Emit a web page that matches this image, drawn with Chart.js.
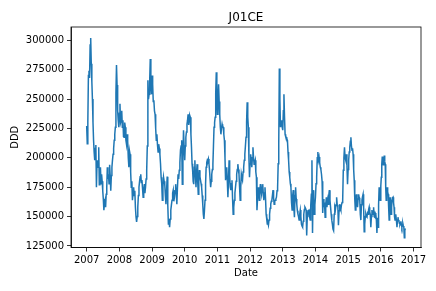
<!DOCTYPE html>
<html>
<head>
<meta charset="utf-8">
<script src="https://cdn.jsdelivr.net/npm/chart.js@4.4.1/dist/chart.umd.min.js"></script>
<style>
  html, body { margin: 0; padding: 0; background: #fff; }
  #wrap { width: 436px; height: 291px; }
</style>
</head>
<body>
<div id="wrap"><canvas id="chart" width="436" height="291"></canvas></div>
<script>
const chartTitle = 'J01CE';
const xTitle = 'Date';
const yTitle = 'DDD';
const xTicks = [2007, 2008, 2009, 2010, 2011, 2012, 2013, 2014, 2015, 2016, 2017];
const yTicks = [125000, 150000, 175000, 200000, 225000, 250000, 275000, 300000];

// weekly DDD, one list per calendar year
const years = [2007, 2008, 2009, 2010, 2011, 2012, 2013, 2014, 2015, 2016];
const ddd2007 = [227000, 212000, 230000, 270000, 274000, 268000, 296000, 302000, 280000, 265000, 250000, 230000, 215000, 205000, 198000, 208000, 211000, 175000, 195000, 198000, 192000, 209000, 177000, 185000, 192000, 178000, 186000, 180000, 172000, 165000, 155500, 162000, 164000, 158000, 169000, 175000, 192000, 182000, 186000, 178000, 194000, 185000, 172000, 185000, 192000, 198000, 203000, 208000, 215000, 220000, 226000, 255000, 279000, 262000, 240000, 232000, 226000];
const ddd2008 = [238000, 246000, 230000, 232000, 240000, 226000, 232000, 218000, 217500, 230000, 226000, 215000, 211600, 220000, 214000, 200000, 192000, 206000, 203000, 188000, 175000, 180000, 164000, 170000, 175000, 168000, 172000, 158000, 150000, 145500, 150000, 158000, 168000, 175000, 180000, 184000, 186000, 179000, 181000, 174000, 166500, 172000, 177600, 170000, 175000, 182000, 189500, 210000, 266000, 250000, 254000, 265000, 284000, 262000, 254000];
const ddd2009 = [270000, 262600, 248000, 249000, 240000, 237000, 225000, 215000, 220000, 211000, 205000, 211600, 208000, 203000, 195000, 183500, 178000, 164000, 175000, 183500, 180000, 177600, 168000, 160600, 172000, 184000, 160000, 143600, 148000, 141000, 148000, 155500, 160000, 164000, 170000, 172500, 163000, 166500, 172000, 177600, 170000, 160600, 175000, 186000, 182000, 189500, 196000, 206500, 210000, 215000, 177600, 200000, 223500, 210000];
const ddd2010 = [198000, 210000, 217500, 222000, 228600, 232000, 237000, 228000, 232000, 236000, 234500, 220000, 209000, 195000, 189500, 180000, 177600, 192000, 198000, 185000, 175000, 188000, 194600, 180000, 169000, 182000, 189500, 184000, 181000, 178000, 175000, 168000, 160600, 152000, 148000, 155000, 164000, 178000, 192000, 196000, 198000, 197000, 199000, 195000, 189500, 182000, 175000, 180000, 186000, 190000, 194600, 210000, 226000, 230000, 234500, 255000, 272800, 250000];
const ddd2011 = [237000, 250000, 262600, 248000, 237000, 226000, 220000, 225000, 228600, 226000, 226000, 220000, 215000, 200000, 181000, 188000, 192000, 180000, 166500, 180000, 198000, 185000, 175000, 172500, 178000, 181000, 165000, 152000, 158000, 164000, 170000, 175000, 180000, 186000, 190000, 194600, 190000, 186000, 175000, 164000, 175000, 186000, 183000, 181000, 188000, 192000, 198000, 203000, 210000, 217500, 230000, 247300, 235000, 226000, 200000, 183500];
const ddd2012 = [195000, 203000, 198000, 192000, 200000, 209000, 200000, 194600, 196000, 198000, 188000, 183500, 155500, 165000, 175000, 170000, 164000, 172000, 177600, 172000, 169000, 175000, 177600, 170000, 164000, 170000, 175000, 165000, 152000, 148000, 143600, 145000, 142700, 147000, 152000, 157000, 160600, 163000, 164000, 168000, 172500, 166000, 160600, 163000, 164000, 165000, 166500, 172000, 175000, 195000, 211600, 276000, 250000, 226000, 230000, 232000, 226000];
const ddd2013 = [223500, 240000, 254000, 235000, 220000, 218000, 217500, 216000, 215000, 205000, 198000, 188000, 183500, 178000, 175000, 162000, 155500, 168000, 172500, 158000, 149500, 168000, 175000, 165000, 160600, 155000, 152000, 150000, 147000, 152000, 155500, 150000, 143600, 142000, 141000, 146000, 152000, 156000, 158000, 157000, 155500, 134000, 150000, 152000, 155000, 155500, 150000, 147000, 160000, 169000, 198000, 136000, 172500, 160000, 152000, 160000];
const ddd2014 = [166500, 178000, 183500, 200000, 205000, 198000, 200600, 196000, 192000, 190000, 186000, 180000, 153000, 165000, 158000, 162000, 149500, 160000, 166500, 158000, 164000, 160600, 168000, 172500, 164000, 158000, 152000, 147000, 143600, 139300, 138000, 152000, 158000, 156000, 160000, 166500, 160000, 158000, 142700, 155000, 160600, 158000, 156000, 160000, 162000, 164000, 189500, 200000, 209000, 200000, 198000, 203000, 195000, 177600];
const ddd2015 = [190000, 198000, 205000, 209000, 214000, 217500, 210000, 206500, 208000, 203000, 190000, 181000, 165000, 155500, 165000, 169000, 162000, 158000, 165000, 169000, 166000, 164000, 152000, 147000, 160000, 164000, 167000, 169000, 158000, 137000, 143600, 150000, 152000, 150000, 149500, 153000, 152000, 156000, 158000, 154000, 152000, 141000, 150000, 155500, 152000, 152000, 158000, 150000, 149500, 153000, 152000, 147000, 136000, 149000, 141000, 160000, 175000, 168000, 164000];
const ddd2016 = [176000, 183500, 195000, 201000, 196000, 194000, 198000, 202000, 197000, 194600, 175000, 164000, 170000, 175000, 171000, 169000, 158000, 147000, 158000, 166500, 158000, 152000, 158000, 164000, 166000, 166500, 162000, 158000, 150000, 147000, 150000, 152000, 146000, 141000, 147000, 149500, 147000, 146000, 144000, 143600, 145000, 146000, 143000, 141000, 143000, 144000, 142000, 141000, 132000, 138000, 140000];
const dataEnd = 2016.75; // last week in the series

const seriesByYear = [ddd2007, ddd2008, ddd2009, ddd2010, ddd2011, ddd2012, ddd2013, ddd2014, ddd2015, ddd2016];

function buildPoints() {
    const points = [];
    years.forEach((year, k) => {
        const vals = seriesByYear[k];
        const isLast = k === years.length - 1;
        const step = isLast ? (dataEnd - year) / (vals.length - 1) : 1 / vals.length;
        vals.forEach((v, i) => points.push({ x: year + i * step, y: v }));
    });
    return points;
}

// frame on all four sides + title centred over the plot
const frameAndTitle = {
    id: 'frameAndTitle',
    afterDraw(chart) {
        const { ctx, chartArea: a } = chart;
        ctx.save();
        ctx.strokeStyle = '#000';
        ctx.lineWidth = 0.8;
        ctx.strokeRect(a.left, a.top, a.right - a.left, a.bottom - a.top);
        ctx.fillStyle = '#000';
        ctx.font = '12px "DejaVu Sans"';
        ctx.textAlign = 'center';
        ctx.textBaseline = 'alphabetic';
        ctx.fillText(chartTitle, (a.left + a.right) / 2, a.top - 6);
        ctx.restore();
    }
};

Chart.defaults.font.family = '"DejaVu Sans", sans-serif';

const tickFont = { family: '"DejaVu Sans", sans-serif', size: 10 };

const ctx = document.getElementById('chart').getContext('2d');
const chart = new Chart(ctx, {
    type: 'line',
    data: {
        datasets: [{
            label: chartTitle,
            data: buildPoints(),
            borderColor: '#1f77b4',
            borderWidth: 1.5,
            pointRadius: 0,
            tension: 0,
            fill: false
        }]
    },
    options: {
        responsive: false,
        animation: false,
        devicePixelRatio: 1,
        layout: { padding: { top: 27, right: 15, left: 0, bottom: 0 } },
        plugins: {
            legend: { display: false },
            tooltip: { enabled: false },
            title: { display: false }
        },
        scales: {
            x: {
                type: 'linear',
                min: 2006.52,
                max: 2017.23,
                afterBuildTicks: s => { s.ticks = xTicks.map(v => ({ value: v })); },
                afterFit: s => { s.height = 43.5; },
                grid: { drawOnChartArea: false, drawTicks: true, tickLength: 4, color: '#000', lineWidth: 0.8 },
                border: { display: true, color: '#000', width: 0.8 },
                ticks: { color: '#000', font: tickFont, padding: 3, maxRotation: 0, autoSkip: false, callback: v => String(v) },
                title: { display: true, text: xTitle, color: '#000', font: tickFont, padding: { top: 0, bottom: 11.5 } }
            },
            y: {
                type: 'linear',
                min: 123700,
                max: 311300,
                afterBuildTicks: s => { s.ticks = yTicks.map(v => ({ value: v })); },
                afterFit: s => { s.width = 71; },
                grid: { drawOnChartArea: false, drawTicks: true, tickLength: 4, color: '#000', lineWidth: 0.8 },
                border: { display: true, color: '#000', width: 0.8 },
                ticks: { color: '#000', font: tickFont, padding: 3, autoSkip: false, callback: v => String(v) },
                title: { display: true, text: yTitle, color: '#000', font: tickFont, padding: { top: 9.5, bottom: 0 } }
            }
        }
    },
    plugins: [frameAndTitle]
});
</script>
</body>
</html>
